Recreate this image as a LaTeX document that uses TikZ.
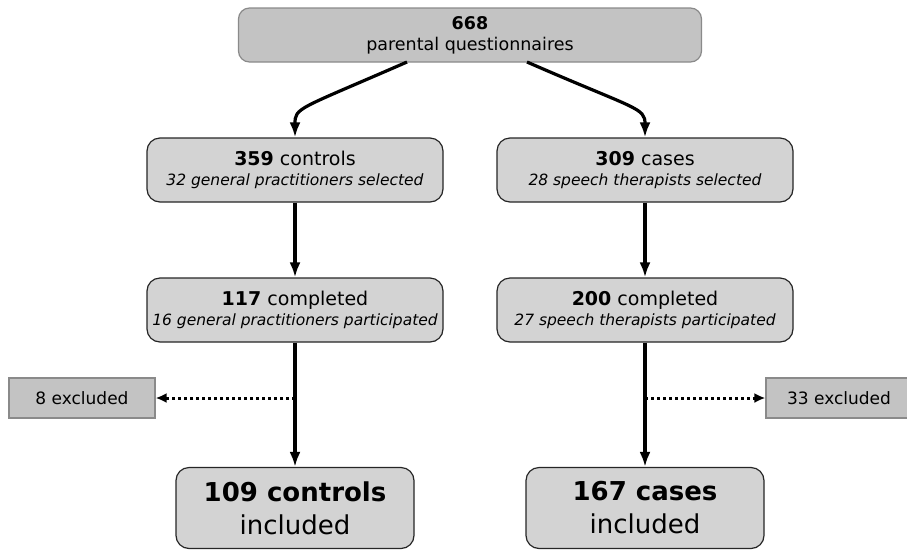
\documentclass[tikz,border=0pt]{standalone}
\usepackage{fontspec}
\setmainfont{DejaVu Sans}
\usetikzlibrary{arrows.meta}

\definecolor{boxgrey}{HTML}{D3D3D3}
\definecolor{exgrey}{HTML}{C3C3C3}
\definecolor{edgegrey}{HTML}{8A8A8A}

\tikzset{
  stage/.style={draw=black!85, fill=boxgrey, line width=1.2pt, rounded corners=13pt,
    minimum width=296pt, minimum height=64pt, inner sep=0pt, align=center,
    font=\fontsize{19}{20.5}\selectfont},
  final/.style={stage, minimum width=238pt, minimum height=81pt,
    font=\fontsize{26}{33}\selectfont},
  source/.style={draw=edgegrey, fill=exgrey, line width=1.2pt, rounded corners=11pt,
    minimum width=463pt, minimum height=54pt, inner sep=0pt, align=center,
    font=\fontsize{17.5}{21}\selectfont},
  excl/.style={draw=edgegrey, fill=exgrey, line width=1.2pt,
    minimum width=146pt, minimum height=40pt, inner sep=0pt,
    font=\fontsize{17}{20}\selectfont},
  flow/.style={draw, line width=3.2pt, -{Latex[length=15pt,width=11pt]}},
  drop/.style={draw, line width=3pt, dash pattern=on 3pt off 3pt,
    -{Latex[length=11pt,width=10pt]}}
}

\newcommand{\subline}[1]{\fontsize{15.5}{20}\selectfont\itshape #1}

\begin{document}
\begin{tikzpicture}[x=1pt,y=-1pt]
\useasboundingbox (0,0) rectangle (907,550);

\node[source] (top) at (470,35) {\textbf{668}\\ parental questionnaires};

\node[stage] (ctrl) at (295,170) {\textbf{359} controls\\ \subline{32 general practitioners selected}};
\node[stage] (case) at (645,170) {\textbf{309} cases\\ \subline{28 speech therapists selected}};

\node[stage] (ctrlc) at (295,310) {\textbf{117} completed\\ \subline{16 general practitioners participated}};
\node[stage] (casec) at (645,310) {\textbf{200} completed\\ \subline{27 speech therapists participated}};

\node[excl] (exl) at (82,398) {8 excluded};
\node[excl] (exr) at (839,398) {33 excluded};

\node[final] (ctrlin) at (295,508) {\textbf{109 controls}\\ included};
\node[final] (casein) at (645,508) {\textbf{167 cases}\\ included};

\coordinate (tl) at (407,62);
\coordinate (tr) at (527,62);
\coordinate (ml) at (295,398);
\coordinate (mr) at (645,398);

% split
\path[flow] (tl) .. controls +(-110,48) and +(0,-30) .. (ctrl.north);
\path[flow] (tr) .. controls +(110,48) and +(0,-30) .. (case.north);

\path[flow] (ctrl) -- (ctrlc);
\path[flow] (case) -- (casec);
\path[flow] (ctrlc) -- (ctrlin);
\path[flow] (casec) -- (casein);

% exclusions
\path[drop] (ml) -- (exl);
\path[drop] (mr) -- (exr);

\end{tikzpicture}
\end{document}
